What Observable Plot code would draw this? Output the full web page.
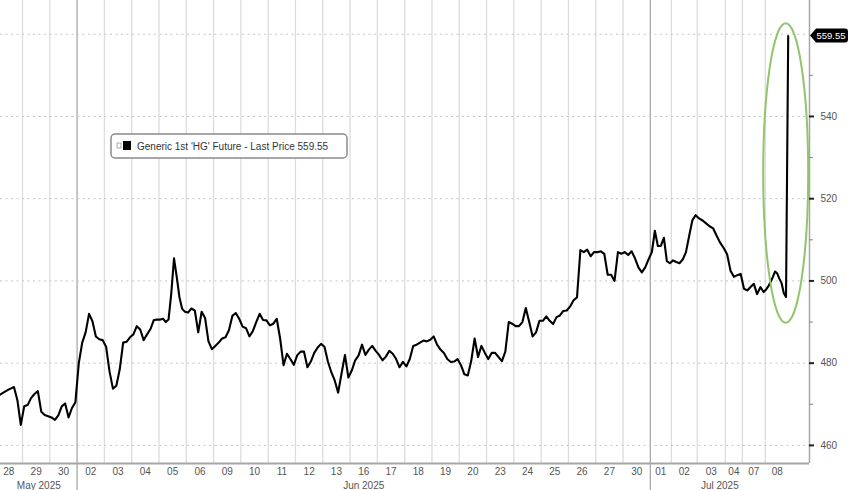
<!DOCTYPE html>
<html><head><meta charset="utf-8">
<script src="https://cdn.jsdelivr.net/npm/d3@7"></script>
<script src="https://cdn.jsdelivr.net/npm/@observablehq/plot@0.6"></script>
<style>
body{margin:0;background:#fff;}
#chart{width:848px;height:490px;}
</style></head><body><div id="chart"></div>
<script>
// ---- data ----
const sessions = ["28","29","30","02","03","04","05","06","09","10","11","12","13","16","17","18","19","20","23","24","25","26","27","30","01","02","03","04","07","08"];
const sessionMonth = ["May 2025","May 2025","May 2025",
  "Jun 2025","Jun 2025","Jun 2025","Jun 2025","Jun 2025","Jun 2025","Jun 2025","Jun 2025","Jun 2025","Jun 2025","Jun 2025",
  "Jun 2025","Jun 2025","Jun 2025","Jun 2025","Jun 2025","Jun 2025","Jun 2025","Jun 2025","Jun 2025","Jun 2025",
  "Jul 2025","Jul 2025","Jul 2025","Jul 2025","Jul 2025","Jul 2025"];
// relative length of each trading session (full session = 1)
const sessionLength = [1,1,1,1,1,1,1,1,1,1,1,1,1,1,1,1,1,1,1,1,1,1,1,1,0.77,0.95,1.03,0.62,0.84,0.88];
// evenly spaced intraday readings within each session
const prices = [
  [471.7,472.4,472.9,473.4,473.8,474.2,471,465],
  [469.5,469.8,471.5,472.5,473.2,468.2,467.4,467.1],
  [466.8,466.2,467.3,469.5,470.2,466.8,469.1,470.5],
  [480,485,487.5,492,490.2,486.5,485.8,485.6],
  [484,478,473.8,474.5,478.5,485,485.2,486.3],
  [487,489,488.2,485.6,487,488.3,490.5,490.6],
  [490.6,490.8,490,490.6,497,505.5,501,496,493.2,492.5],
  [492.3,493.3,492.8,487.5,492.5,491,485.3,483.4],
  [484.2,485,486,486.3,488,491.5,492.2,490.8],
  [488.9,488.5,486.5,487.8,490,492,490.5,490.4],
  [489.2,489.6,490.8,486,479.5,482.3,481,479.6],
  [481.9,482.8,482.8,479,480.4,482.5,483.8,484.7],
  [484,480.4,477.8,475.8,472.8,477.5,482,476.5],
  [478.2,480.7,481.9,484.5,482,483.3,484.2,483],
  [482,480.7,481.6,483,482.3,481,479,480.3],
  [479.2,481,484.2,484.5,485,485.5,485.3,485.7],
  [486.5,484.5,483.3,482.5,481,480.3,480.4,481],
  [479.5,477.3,477,480.5,486,481.5,484.2,482.5],
  [481,482.5,482.5,481.5,480.5,482.8,490,489.6],
  [489,489,490,493.4,490,486.5,487.5,490.3],
  [490.3,491.4,490.3,489.5,491.2,491.6,492.7,492.8],
  [493.8,495.3,496,507.5,507,507.6,506,507],
  [507,507.2,506.6,501.5,501.5,500,507,506.6],
  [507,506.3,507.2,505.5,503.3,502.1,503.3,505.3],
  [507,512.2,508.5,508.5,510.5,504.8,504.3],
  [505,504.6,504.3,505.2,507,511,514.8,516],
  [515.2,514.7,514,513.3,512.8,511,509.3,508],
  [506.5,502.5,501,501.4,501.7],
  [498.1,497.7,498.5,499.3,496.8,498.5,497.3],
  [498,498.8,499.8,501,502.3,501.8,500.5,499.4,497,496.1,559.55]
];
const seriesName = "Generic 1st 'HG' Future - Last Price";
const lastPrice = 559.55;
const yTicks = [460,480,500,520,540,560];
const yLabelTicks = [460,480,500,520,540];
const yMinorTicks = [470,490,510,530,550];

// ---- derived tables ----
const points = [], bands = [];
let start = 0;
sessions.forEach((s, i) => {
  const len = sessionLength[i], vals = prices[i];
  vals.forEach((v, j) => points.push({u: start + (j + 0.5) / vals.length * len, v}));
  bands.push({label: s, month: sessionMonth[i], u0: start, u1: start + len, c: start + len / 2});
  start += len;
});
const xDomain = [0.194, 29.83];
const yDomain = [455.6, 568.2];
const inner = bands.slice(0, -1).map((b, i) => ({u: b.u1, sep: b.month !== bands[i + 1].month}));
const monthSep = inner.filter(d => d.sep).map(d => d.u);
const dayLines = inner.filter(d => !d.sep).map(d => d.u);
const months = d3.groups(bands, b => b.month).map(([m, bs]) => ({
  month: m, c: (Math.max(xDomain[0], bs[0].u0) + bs[bs.length - 1].u1) / 2
}));

const font = "'Liberation Sans', Arial, sans-serif";
const plot = Plot.plot({
  width: 848, height: 490,
  marginLeft: 0, marginRight: 39, marginTop: 0, marginBottom: 27,
  style: {fontFamily: font, background: "#fff"},
  x: {domain: xDomain, axis: null},
  y: {domain: yDomain, axis: null},
  marks: [
    Plot.ruleX(dayLines, {stroke: "#dcdcdc", strokeWidth: 1.3}),
    Plot.ruleX(monthSep, {stroke: "#a8a8a8", strokeWidth: 1.3, insetBottom: -27}),
    Plot.ruleY(yTicks, {stroke: "#c4c4c4", strokeDasharray: "2,3.5", strokeWidth: 1}),
    Plot.ruleY([yDomain[0]], {stroke: "#a6a6a6", strokeWidth: 2}),
    Plot.ruleX([xDomain[1]], {stroke: "#a6a6a6", strokeWidth: 1.5}),
    Plot.ruleY(yMinorTicks, {x1: xDomain[1], x2: xDomain[1], insetRight: -4, stroke: "#888", strokeWidth: 1}),
    Plot.ruleY(yLabelTicks, {x1: xDomain[1], x2: xDomain[1], insetRight: -5, stroke: "#222", strokeWidth: 2}),
    Plot.text(yLabelTicks, {x: xDomain[1], y: d => d, text: d => String(d), dx: 11, textAnchor: "start", fontSize: 10, fill: "#555"}),
    Plot.line(points, {x: "u", y: "v", stroke: "#000", strokeWidth: 2.1, strokeLinejoin: "round", clip: true}),
    Plot.text(bands, {x: "c", y: () => yDomain[0], text: "label", dy: 8, fontSize: 10, fill: "#555"}),
    Plot.text(months, {x: "c", y: () => yDomain[0], text: "month", dy: 22, fontSize: 10, fill: "#555"})
  ]
});
document.getElementById("chart").appendChild(plot);

// ---- annotations using the plot's scales ----
const sx = plot.scale("x"), sy = plot.scale("y");
const svg = d3.select(plot);
const last = points[points.length - 1];
const jul8 = prices[prices.length - 1];
const cx = sx.apply(last.u) - 2;
const yTop = sy.apply(d3.max(jul8) + 3), yBot = sy.apply(d3.min(jul8) - 6.4);
svg.append("ellipse")
  .attr("cx", cx).attr("cy", (yTop + yBot) / 2)
  .attr("rx", 22.5).attr("ry", (yBot - yTop) / 2)
  .attr("fill", "none").attr("stroke", "#92c46c").attr("stroke-width", 2);

// price tag
const ax = sx.apply(xDomain[1]), ty = sy.apply(lastPrice);
svg.append("path")
  .attr("d", `M${ax + 1},${ty} L${ax + 7},${ty - 7} L${ax + 36},${ty - 7} Q${ax + 39},${ty - 7} ${ax + 39},${ty - 4} L${ax + 39},${ty + 4} Q${ax + 39},${ty + 7} ${ax + 36},${ty + 7} L${ax + 7},${ty + 7} Z`)
  .attr("fill", "#000");
svg.append("text").attr("x", ax + 22).attr("y", ty).attr("dy", "0.35em")
  .attr("text-anchor", "middle").attr("fill", "#fff").attr("font-size", 9.5)
  .attr("font-family", font).text(lastPrice.toFixed(2));

// legend box
const lg = svg.append("g").attr("transform", "translate(111,134)");
lg.append("rect").attr("width", 236).attr("height", 24).attr("rx", 4)
  .attr("fill", "#fff").attr("stroke", "#8a8a8a").attr("stroke-width", 1.5);
lg.append("rect").attr("x", 6).attr("y", 9).attr("width", 4).attr("height", 5)
  .attr("fill", "none").attr("stroke", "#999").attr("stroke-width", 0.8);
lg.append("rect").attr("x", 12).attr("y", 7).attr("width", 8).attr("height", 9).attr("fill", "#000");
lg.append("text").attr("x", 26).attr("y", 12).attr("dy", "0.35em")
  .attr("text-anchor", "start")
  .attr("font-size", 10).attr("fill", "#333").attr("font-family", font)
  .text(`${seriesName} ${lastPrice.toFixed(2)}`);
</script></body></html>
